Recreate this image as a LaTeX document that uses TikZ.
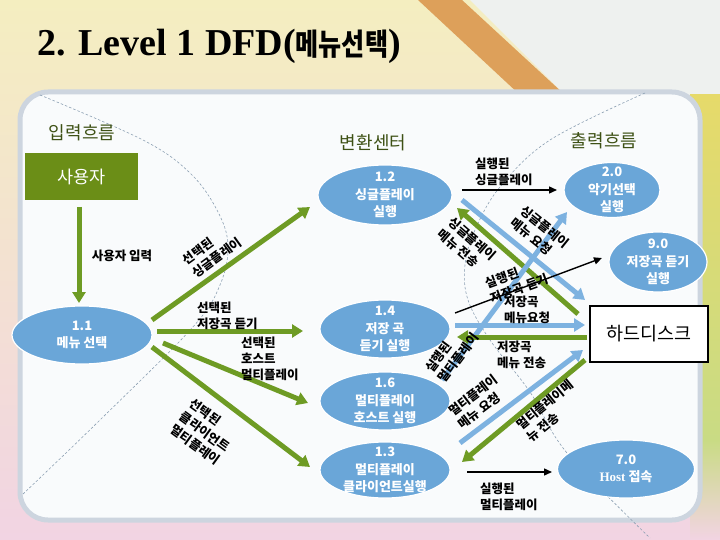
\documentclass[tikz,border=0pt]{standalone}
\usepackage{fontspec}
\usepackage{graphicx}
\setmainfont{Liberation Serif}
\newfontfamily\kr{Noto Sans CJK KR}
\usetikzlibrary{arrows.meta,calc,shapes.geometric}
\definecolor{grn}{HTML}{6E9B24}
\definecolor{blu}{HTML}{7DB2E0}
\definecolor{ellb}{HTML}{6AA6D8}
\definecolor{boxg}{HTML}{6B8E17}
\definecolor{headc}{HTML}{3E5115}
\definecolor{bgtop}{HTML}{F4EEC0}
\definecolor{bgbot}{HTML}{F2D4E3}
\definecolor{panelb}{HTML}{CDD5DF}
\definecolor{panelf}{HTML}{F9FBFC}
\definecolor{decoc}{HTML}{8CA0B3}
\definecolor{pencil}{HTML}{DDA05A}
\definecolor{pale}{HTML}{EEF1EF}
\definecolor{ryel}{HTML}{E6DA6A}
\definecolor{rgrn}{HTML}{C9DB84}
\begin{document}
\begin{tikzpicture}[x=1pt,y=-1pt,
  ell/.style={ellipse, fill=ellb, draw=white, line width=1.2pt, inner sep=0pt},
  etxt/.style={text=white, font=\kr\bfseries\fontsize{13}{17.5}\selectfont, align=center, inner sep=0pt},
  lab/.style={text=black, font=\kr\bfseries\fontsize{12.5}{16}\selectfont, align=left, inner sep=0pt},
  hd/.style={text=headc, font=\kr\fontsize{18}{20}\selectfont, inner sep=0pt},
  garrow/.style={draw=grn, line width=5pt, -{Triangle[width=13pt,length=11pt]}},
  barrow/.style={draw=blu, line width=5pt, -{Triangle[width=13pt,length=11pt]}},
  karrow/.style={draw=black, line width=1.4pt, -{Triangle[width=7pt,length=8pt]}},
  deco/.style={draw=decoc, line width=0.6pt, dash pattern=on 2.5pt off 2pt}
]
\useasboundingbox (0,0) rectangle (720,540);
% background
\shade[top color=bgtop, bottom color=bgbot] (0,0) rectangle (720,540);
\fill[pale] (470,0) -- (720,0) -- (720,95) -- (565,95) -- cycle;
\fill[pencil] (418,0) -- (462,0) -- (565,95) -- (520,95) -- cycle;
\shade[top color=ryel, bottom color=rgrn] (690,95) rectangle (720,440);
\shade[top color=rgrn, bottom color=bgbot] (690,440) rectangle (720,540);
% panel
\draw[draw=panelb, line width=5pt, fill=panelf, rounded corners=28pt] (20,92) rectangle (700,520);
% decorative dashed curves
\draw[deco] plot[smooth, tension=0.6] coordinates {(40,95) (143,140) (190,173) (217,210) (228,245) (220,285) (192,328) (100,420) (22,495)};
\draw[deco] plot[smooth, tension=0.6] coordinates {(645,93) (550,140) (500,187) (475,230) (465,265) (468,300) (490,340) (530,392) (567,453) (650,538)};
% title
\node[anchor=base west, inner sep=0pt, font=\bfseries\fontsize{38}{40}\selectfont] (title) at (37,56) {2. Level 1 DFD(\scalebox{0.93}[1.12]{\kr\bfseries\fontsize{27}{30}\selectfont 메뉴선택})};
% headings
\node[hd] (h1) at (82,133) {입력흐름};
\node[hd] (h2) at (373,143) {변환센터};
\node[hd] (h3) at (604,141) {출력흐름};
% nodes
\node[fill=boxg, minimum width=113pt, minimum height=47pt, inner sep=0pt, text=white, font=\kr\fontsize{17.5}{20}\selectfont] (u) at (81.5,176.5) {사용자};
\node[ell, minimum width=140pt, minimum height=58pt] (n11) at (82,335) {};
\node[etxt] (t11) at (n11) {1.1\\메뉴 선택};
\node[ell, minimum width=134pt, minimum height=60pt] (n12) at (385,195) {};
\node[etxt] (t12) at (n12) {1.2\\싱글플레이\\실행};
\node[ell, minimum width=130pt, minimum height=58pt] (n14) at (385,329) {};
\node[etxt] (t14) at (n14) {1.4\\저장 곡\\듣기 실행};
\node[ell, minimum width=130pt, minimum height=58pt] (n16) at (385,401) {};
\node[etxt] (t16) at (n16) {1.6\\멀티플레이\\호스트 실행};
\node[ell, minimum width=130pt, minimum height=56pt] (n13) at (385,470) {};
\node[etxt] (t13) at (n13) {1.3\\멀티플레이\\클라이언트실행};
\node[ell, minimum width=96pt, minimum height=55pt] (n20) at (612,190) {};
\node[etxt] (t20) at (n20) {2.0\\악기선택\\실행};
\node[ell, minimum width=98pt, minimum height=60pt] (n90) at (658,262) {};
\node[etxt] (t90) at (n90) {9.0\\저장곡 듣기\\실행};
\node[ell, minimum width=137pt, minimum height=58pt] (n70) at (626,469) {};
\node[etxt] (t70) at (n70) {7.0\\{\rmfamily Host} 접속};
\node[draw=black, line width=2pt, fill=white, minimum width=118pt, minimum height=56pt, inner sep=0pt, font=\kr\fontsize{18.5}{22}\selectfont] (hdd) at (649,334) {하드디스크};
% arrows
\draw[garrow] ($(u)+(-2.5,30.5)$) -- ($(n11)+(-3,-32)$);
\draw[garrow] ($(n11)+(70,-15)$) -- ($(n12)+(-75,12)$);
\draw[garrow] ($(n11)+(75,-4)$) -- ($(n14)+(-82,2)$);
\draw[garrow] ($(n11)+(81,8)$) -- ($(n16)+(-77,2)$);
\draw[garrow] ($(n11)+(70,12)$) -- ($(n13)+(-75,-3)$);
\draw[karrow] ($(n12)+(77,-5)$) -- ($(n20)+(-55,0)$);
\draw[barrow] ($(n12)+(77,5)$) -- ($(hdd)+(-64,-34)$);
\draw[garrow] ($(hdd)+(-71,-20)$) -- ($(n12)+(72,13)$);
\draw[barrow] ($(n16)+(57,-21)$) -- ($(n20)+(-45,22)$);
\draw[karrow] ($(n14)+(70,-16)$) -- ($(n90)+(-56,-4)$);
\draw[barrow] ($(n14)+(70,-4)$) -- ($(hdd)+(-64,-9)$);
\draw[garrow] ($(hdd)+(-62,3)$) -- ($(n14)+(72,8)$);
\draw[barrow] ($(n13)+(75,-27)$) -- ($(hdd)+(-66,16)$);
\draw[garrow] ($(hdd)+(-64,26)$) -- ($(n13)+(77,-8)$);
\draw[karrow] ($(n13)+(82,2)$) -- ($(n70)+(-74,3)$);
% labels
\node[lab] (l1) at (122,256) {사용자 입력};
\node[lab, rotate=36] (l2) at (212,251) {선택된\\싱글플레이};
\node[lab, anchor=west] (l3) at (197,316) {선택된\\저장곡 듣기};
\node[lab, anchor=west] (l4) at (241,359) {선택된\\호스트\\멀티플레이};
\node[lab, rotate=-36] (l5) at (205,432) {선택된\\클라이언트\\멀티플레이};
\node[lab, anchor=west] (l6) at (475,172) {실행된\\싱글플레이};
\node[lab, rotate=-39] (l7) at (540,233) {싱글플레이\\메뉴 요청};
\node[lab, rotate=-41] (l8) at (467,245) {싱글플레이\\메뉴 전송};
\node[lab, rotate=53] (l9) at (452,353) {실행된\\멀티플레이};
\node[lab, rotate=20] (l10) at (517,281) {실행된\\저장곡 듣기};
\node[lab, anchor=west] (l11) at (504,310) {저장곡\\메뉴요청};
\node[lab, anchor=west] (l12) at (497,355) {저장곡\\메뉴 전송};
\node[lab, rotate=37] (l13) at (478,402) {멀티플레이\\메뉴 요청};
\node[lab, rotate=39] (l14) at (550,411) {멀티플레이메\\뉴 전송};
\node[lab, anchor=west] (l15) at (480,497) {실행된\\멀티플레이};
\end{tikzpicture}
\end{document}
